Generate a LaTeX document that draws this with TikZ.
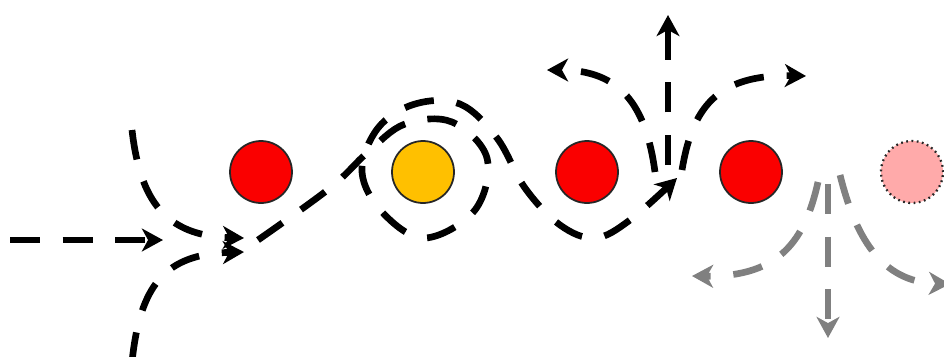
\documentclass[tikz,border=0pt]{standalone}
\usepackage{tikz}
\usetikzlibrary{arrows.meta}
\definecolor{hopred}{RGB}{250,0,0}
\definecolor{hopgold}{RGB}{255,192,0}
\definecolor{hoppink}{RGB}{255,170,170}
\definecolor{hopgray}{RGB}{128,128,128}

\begin{document}
\begin{tikzpicture}[x=0.02cm,y=-0.02cm,
    site/.style={circle,draw=black!85,line width=1pt,minimum size=1.24cm,inner sep=0pt},
    hop/.style={line width=3.8pt,dash pattern=on 17pt off 13pt,
      -{Stealth[length=12pt,width=13pt,inset=3.5pt]}}]
    \useasboundingbox (0,0) rectangle (944,356);
    \clip (0,0) rectangle (944,356);
    % lattice sites
    \node[site,fill=hopred] (s1) at (261,172) {};
    \node[site,fill=hopgold] (s2) at (423,172) {};
    \node[site,fill=hopred] (s3) at (587,172) {};
    \node[site,fill=hopred] (s4) at (751,172) {};
    \node[site,fill=hoppink,dotted,line width=1.3pt] (s5) at (912,172) {};
    % incoming paths
    \coordinate (west) at (10,240);
    \coordinate (join) at (163,240);
    \coordinate (north) at (132,130);
    \coordinate (south) at (132,362);
    \coordinate (in1) at (244,238);
    \coordinate (in2) at (244,252);
    \draw[hop] (west) -- (join);
    \draw[hop] (north) .. controls (140,200) and (165,236) .. (in1);
    \draw[hop] (south) .. controls (140,285) and (165,254) .. (in2);
    % loop round the gold site
    \coordinate (loopA) at (258,240);
    \coordinate (loopB) at (677,178);
    \draw[hop] plot[smooth,tension=0.6] coordinates {(loopA) (330,188) (368,152) (405,124)
      (452,122) (487,158) (475,210) (425,238) (383,213) (362,172) (378,128) (415,104)
      (460,104) (497,138) (525,188) (560,225) (595,238) (630,220) (loopB)};
    % black fan
    \coordinate (fanL) at (655,172);
    \coordinate (fanM) at (668,165);
    \coordinate (fanR) at (682,170);
    \coordinate (upL) at (547,70);
    \coordinate (upM) at (668,15);
    \coordinate (upR) at (806,76);
    \draw[hop] (fanL) .. controls (646,105) and (620,70) .. (upL);
    \draw[hop] (fanM) -- (upM);
    \draw[hop] (fanR) .. controls (692,110) and (715,74) .. (upR);
    % gray fan
    \coordinate (gL) at (818,182);
    \coordinate (gM) at (828,184);
    \coordinate (gR) at (840,175);
    \coordinate (dnL) at (692,276);
    \coordinate (dnM) at (828,338);
    \coordinate (dnR) at (950,284);
    \draw[hop,hopgray] (gL) .. controls (805,240) and (780,277) .. (dnL);
    \draw[hop,hopgray] (gM) -- (dnM);
    \draw[hop,hopgray] (gR) .. controls (855,235) and (880,282) .. (dnR);
\end{tikzpicture}
\end{document}
